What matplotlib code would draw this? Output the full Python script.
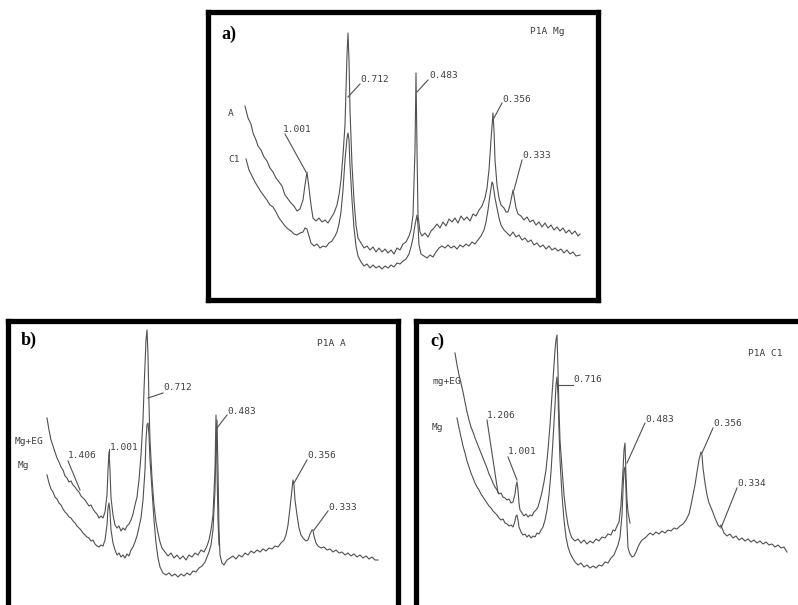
import matplotlib
matplotlib.use("Agg")
import matplotlib.pyplot as plt

# ---------------- data (trace coordinates) ----------------
# panel a : P1A Mg
a_A_x = [245,248,251,253,256,258,261,264,267,270,273,276,279,282,285,288,291,294,297,300,303,305,307,309,311,313,316,319,322,325,328,331,334,337,339,341,343,345,346,347,348,349,350,352,354,356,358,361,364,367,370,373,376,379,382,385,388,391,394,397,400,403,406,409,411,413,415,416,417,418,420,422,425,428,431,434,437,440,443,446,449,452,455,458,461,464,467,470,473,476,479,482,485,487,489,491,493,494,495,497,499,501,504,506,508,510,512,513,514,516,518,521,524,527,530,533,536,539,542,545,548,551,554,557,560,563,566,569,572,575,578,580]
a_A_y = [106,118,124,133,140,146,150,157,161,168,172,178,182,186,195,199,203,206,211,209,200,185,172,188,205,218,221,218,222,220,223,218,213,205,195,180,155,125,90,55,33,60,110,165,200,225,238,243,248,246,250,247,252,248,252,249,253,250,254,248,250,244,242,236,230,215,150,73,150,215,232,236,233,237,231,228,224,228,222,226,219,222,218,223,216,220,217,221,214,216,210,206,198,188,170,140,113,130,160,185,198,205,208,212,212,205,195,190,196,208,214,216,220,217,222,220,225,222,227,223,228,225,230,227,231,228,233,230,234,231,236,234]
a_C1_x = [246,249,252,255,258,261,264,267,270,273,276,279,282,285,288,291,294,297,300,303,305,307,309,311,314,317,320,323,326,329,332,335,337,339,341,343,345,347,348,349,350,352,354,356,358,361,364,367,370,373,376,379,382,385,388,391,394,397,400,403,406,409,411,413,415,417,418,419,421,424,427,430,433,436,439,442,445,448,451,454,457,460,463,466,469,472,475,478,481,484,486,488,490,492,493,495,497,499,501,504,507,510,513,516,519,522,525,528,531,534,537,540,543,546,549,552,555,558,561,564,567,570,573,576,580]
a_C1_y = [159,170,176,182,187,192,196,200,205,207,212,218,222,226,229,231,234,235,233,232,228,229,236,243,246,244,248,246,247,243,241,236,232,224,212,190,160,138,133,140,165,200,228,246,256,262,266,264,268,265,268,266,269,266,268,265,267,263,264,261,259,254,247,238,225,215,225,245,254,256,258,255,257,252,248,246,248,245,248,246,249,245,247,244,246,242,244,240,236,230,222,210,195,182,184,198,208,218,225,230,233,236,232,237,235,240,238,242,240,245,243,247,245,249,246,250,248,251,249,253,250,254,252,256,255]

# panel b : P1A A
b_EG_x = [47,49,51,53,55,57,59,61,63,65,67,69,71,73,75,77,79,81,83,85,87,89,91,93,95,97,99,101,103,105,107,108,109,110,111,113,115,117,119,121,123,125,127,129,131,133,135,137,139,141,143,144,145,146,147,148,149,150,152,154,156,158,160,162,165,168,171,174,177,180,183,186,189,192,195,198,201,204,207,209,211,213,215,216,217,218,219]
b_EG_y = [418,430,440,446,452,458,462,467,470,476,478,482,481,485,487,490,492,496,498,500,503,506,505,509,512,514,518,516,518,512,495,470,452,470,498,515,525,528,526,531,528,530,526,524,520,514,505,497,480,455,420,390,365,340,330,355,405,440,478,505,522,533,542,548,552,556,553,558,555,559,556,560,555,557,553,555,550,552,546,540,530,515,470,415,470,520,545]
b_Mg_x = [47,49,51,53,55,57,59,61,63,65,67,69,71,73,75,77,79,81,83,85,87,89,91,93,95,97,99,101,103,105,107,108,109,110,111,113,115,117,119,121,123,125,127,129,131,133,135,137,139,141,143,145,146,147,148,149,150,152,154,156,158,160,163,166,169,172,175,178,181,184,187,190,193,196,199,202,205,207,209,211,213,215,216,217,218,219,220,222,224,227,230,233,236,239,242,245,248,251,254,257,260,263,266,269,272,275,278,281,284,286,288,290,292,293,294,295,297,299,301,303,306,308,310,312,313,314,316,318,321,324,327,330,333,336,339,342,345,348,351,354,357,360,363,366,369,372,375,378]
b_Mg_y = [475,483,489,492,497,499,503,505,509,512,514,517,518,521,523,526,528,530,533,535,537,538,541,540,544,546,547,545,546,540,525,508,503,512,530,543,550,555,553,557,555,558,554,556,550,547,542,536,527,518,500,470,440,425,423,435,460,490,520,543,558,567,573,575,573,576,574,577,574,576,573,575,571,572,568,566,562,557,552,545,530,490,440,420,470,530,555,563,565,560,558,556,559,555,557,553,555,551,553,550,552,549,551,548,549,546,547,543,540,535,525,508,490,480,485,500,515,528,535,538,541,540,534,530,530,536,543,546,548,547,550,549,552,550,553,552,555,553,556,554,557,555,558,556,559,557,560,560]

# panel c : P1A C1
c_EG_x = [455,457,459,461,463,465,467,469,471,473,475,477,479,481,483,485,487,489,491,493,495,497,499,501,503,505,507,509,511,513,515,516,517,518,519,520,522,524,526,528,530,532,534,536,538,540,542,544,546,548,550,552,554,555,556,557,558,559,560,562,564,566,568,570,572,575,578,581,584,587,590,593,596,599,602,605,608,611,613,615,617,619,621,623,624,625,626,627,628,630]
c_EG_y = [353,365,375,383,392,402,412,420,427,432,438,443,448,453,458,463,468,474,478,483,487,490,494,493,497,498,500,499,503,502,494,486,482,490,503,510,513,516,514,517,515,516,512,510,507,500,492,482,470,450,425,395,365,350,340,335,370,410,440,468,495,512,525,533,538,541,539,543,540,544,541,543,539,541,537,538,534,535,530,531,526,522,505,470,450,443,475,500,512,523]
c_Mg_x = [457,459,461,463,465,467,469,471,473,475,477,479,481,483,485,487,489,491,493,495,497,499,501,503,505,507,509,511,513,515,516,517,518,519,521,523,525,527,529,531,533,535,537,539,541,543,545,547,549,551,553,555,556,557,558,559,560,562,564,566,568,570,572,575,578,581,584,587,590,593,596,599,602,605,608,611,614,616,618,620,622,623,624,625,626,627,628,630,632,634,636,638,640,642,645,648,650,653,656,659,662,665,668,671,674,677,680,683,686,689,691,693,695,697,699,701,702,703,705,707,709,712,715,718,720,721,722,724,727,730,733,736,739,742,745,748,751,754,757,760,763,766,769,772,775,778,781,784,787]
c_Mg_y = [418,428,437,446,453,461,467,473,478,483,487,490,494,497,500,503,506,508,511,513,515,518,520,519,523,524,526,525,527,521,516,515,520,527,532,535,534,537,535,538,536,537,533,534,530,527,520,510,495,472,440,405,385,377,395,430,460,495,520,537,547,553,557,562,565,563,567,565,568,566,568,565,566,562,563,558,555,550,545,537,515,490,470,467,490,525,548,554,557,556,552,547,543,540,538,535,533,535,532,534,531,533,530,531,528,529,526,524,520,514,505,495,485,472,460,452,455,468,483,495,503,510,518,525,527,525,528,533,536,534,538,536,540,538,541,539,542,540,543,541,544,542,545,544,547,545,548,547,552]

# annotations: (text, text_x, text_y, leader_from, leader_to)
a_peaks = [("1.001", 283, 130, (285, 134), (306, 172)),
           ("0.712", 360, 80, (360, 84), (348, 97)),
           ("0.483", 429, 76, (428, 80), (417, 92)),
           ("0.356", 502, 99, (502, 103), (494, 118)),
           ("0.333", 522, 156, (522, 160), (514, 190))]
b_peaks = [("1.406", 68, 455, (68, 461), (80, 490)),
           ("1.001", 110, 447, (109, 449), (109, 456)),
           ("0.712", 163, 388, (163, 393), (148, 398)),
           ("0.483", 227, 411, (227, 415), (217, 428)),
           ("0.356", 307, 455, (307, 460), (294, 483)),
           ("0.333", 328, 507, (328, 511), (314, 530))]
c_peaks = [("1.206", 487, 415, (487, 420), (498, 493)),
           ("1.001", 508, 452, (508, 457), (517, 480)),
           ("0.716", 573, 380, (573, 385), (558, 385)),
           ("0.483", 645, 420, (645, 423), (627, 463)),
           ("0.356", 713, 423, (713, 428), (702, 453)),
           ("0.334", 737, 484, (737, 488), (721, 528))]

# ---------------- drawing ----------------
W, H = 798, 605
fig = plt.figure(figsize=(W / 100, H / 100), dpi=100)
fig.patch.set_facecolor("white")

LC = "#505050"
MONO = "DejaVu Sans Mono"


def panel(box):
    l, t, r, b = box
    ax = fig.add_axes([l / W, 1 - b / H, (r - l) / W, (b - t) / H])
    ax.set_xlim(l, r)
    ax.set_ylim(b, t)
    ax.set_xticks([])
    ax.set_yticks([])
    for s in ax.spines.values():
        s.set_linewidth(3.8)
        s.set_color("black")
    ax.set_facecolor("white")
    return ax


def draw(ax, curves, peaks, tag, title, names):
    for xs, ys in curves:
        ax.plot(xs, ys, color=LC, lw=0.8)
    for txt, tx, ty, p0, p1 in peaks:
        ax.plot([p0[0], p1[0]], [p0[1], p1[1]], color=LC, lw=0.8)
        ax.text(tx, ty, txt, family=MONO, fontsize=6.8, color="#404040",
                ha="left", va="center")
    ax.text(tag[0], tag[1], tag[2], family="Liberation Serif", fontweight="bold",
            fontsize=13, color="black", ha="left", va="center")
    ax.text(title[0], title[1], title[2], family=MONO, fontsize=6.8,
            color="#404040", ha="left", va="center")
    for nx, ny, nt in names:
        ax.text(nx, ny, nt, family=MONO, fontsize=6.8, color="#404040",
                ha="left", va="center")


ax_a = panel((208, 12, 598, 300))
draw(ax_a, [(a_A_x, a_A_y), (a_C1_x, a_C1_y)], a_peaks,
     (221, 34, "a)"), (530, 32, "P1A Mg"), [(228, 113, "A"), (228, 159, "C1")])

ax_b = panel((7.5, 320.5, 397.5, 640))
draw(ax_b, [(b_EG_x, b_EG_y), (b_Mg_x, b_Mg_y)], b_peaks,
     (21, 340, "b)"), (317, 343, "P1A A"), [(15, 442, "Mg+EG"), (18, 465, "Mg")])

ax_c = panel((416.5, 320.5, 840, 640))
draw(ax_c, [(c_EG_x, c_EG_y), (c_Mg_x, c_Mg_y)], c_peaks,
     (430, 341, "c)"), (748, 353, "P1A C1"), [(433, 382, "mg+EG"), (432, 428, "Mg")])

fig.savefig("out.png", dpi=100)
